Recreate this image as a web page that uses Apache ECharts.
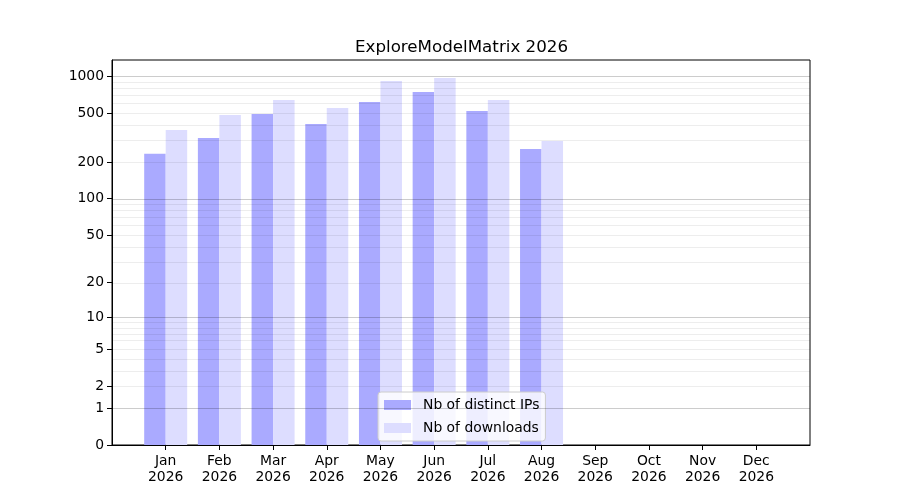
<!DOCTYPE html>
<html>
<head>
<meta charset="utf-8">
<script src="https://cdn.jsdelivr.net/npm/echarts@6/dist/echarts.min.js"></script>
<style>html,body{margin:0;padding:0;background:#fff}#c{width:900px;height:500px}</style>
</head>
<body>
<div id="c"></div>
<script>
const months = ['Jan','Feb','Mar','Apr','May','Jun','Jul','Aug','Sep','Oct','Nov','Dec'];
const yearLabel = '2026';
const distinctIPs = [233, 314, 493, 408, 617, 744, 521, 255];
const downloads = [365, 483, 641, 551, 915, 968, 641, 297];
const yTickLabels = [0, 1, 2, 5, 10, 20, 50, 100, 200, 500, 1000];
const majorGrid = [1, 10, 100, 1000];
const minorGrid = [2,3,4,5,6,7,8,9,20,30,40,50,60,70,80,90,200,300,400,500,600,700,800,900];

const f = v => Math.log10(v + 1);
const inv = t => Math.round(Math.pow(10, t) - 1);
const FONT = 'DejaVu Sans';
const monthIdx = months.map((m, i) => i);

const chart = echarts.init(document.getElementById('c'), null, {renderer: 'canvas'});
const gridLines = [];
minorGrid.forEach(v => gridLines.push({yAxis: f(v), lineStyle: {color: 'rgba(0,0,0,0.07)', width: 1, type: 'solid'}}));
majorGrid.forEach(v => gridLines.push({yAxis: f(v), lineStyle: {color: 'rgba(0,0,0,0.2)', width: 1, type: 'solid'}}));

chart.setOption({
  animation: false,
  title: {
    text: 'ExploreModelMatrix 2026',
    left: 350, top: 34,
    textStyle: {fontFamily: FONT, fontSize: 16.7, fontWeight: 'normal', color: '#000'}
  },
  grid: {left: 112, right: 90, top: 60, bottom: 55, show: true, borderColor: '#000', borderWidth: 1, backgroundColor: 'transparent'},
  legend: {
    orient: 'vertical', left: 378, top: 392,
    padding: [6, 6, 6, 6], itemGap: 9,
    itemWidth: 27, itemHeight: 10, icon: 'rect',
    backgroundColor: 'rgba(255,255,255,0.8)', borderColor: '#cccccc', borderWidth: 1, borderRadius: 3,
    textStyle: {fontFamily: FONT, fontSize: 13.9, color: '#000', padding: [0, 0, 0, 7]},
    data: ['Nb of distinct IPs', 'Nb of downloads']
  },
  xAxis: {
    type: 'value', min: -1, max: 12, interval: 1,
    axisLine: {show: true, onZero: false, lineStyle: {color: '#000', width: 1}},
    axisTick: {show: true, length: 5, customValues: monthIdx, lineStyle: {color: '#000'}},
    axisLabel: {
      customValues: monthIdx, margin: 8,
      fontFamily: FONT, fontSize: 13.9, color: '#000', lineHeight: 16,
      formatter: v => (v >= 0 && v <= 11) ? months[v] + '\n' + yearLabel : ''
    },
    splitLine: {show: false}
  },
  yAxis: {
    type: 'value', min: 0, max: 3.133,
    axisLine: {show: true, onZero: false, lineStyle: {color: '#000', width: 1}},
    axisTick: {show: true, length: 5, customValues: yTickLabels.map(f), lineStyle: {color: '#000'}},
    axisLabel: {
      customValues: yTickLabels.map(f), margin: 8,
      fontFamily: FONT, fontSize: 13.9, color: '#000',
      formatter: v => String(inv(v))
    },
    splitLine: {show: false}
  },
  series: [
    {
      name: 'Nb of distinct IPs', type: 'bar', barWidth: 21.5, barGap: '0%',
      itemStyle: {color: '#aaaaff'},
      data: distinctIPs.map((v, i) => [i, f(v)])
    },
    {
      name: 'Nb of downloads', type: 'bar', barWidth: 21.5, barGap: '0%',
      itemStyle: {color: '#ddddff'},
      data: downloads.map((v, i) => [i, f(v)])
    },
    {
      name: 'grid', type: 'line', z: 10, data: [], silent: true,
      markLine: {silent: true, symbol: 'none', label: {show: false}, animation: false, data: gridLines}
    }
  ]
});
</script>
</body>
</html>
